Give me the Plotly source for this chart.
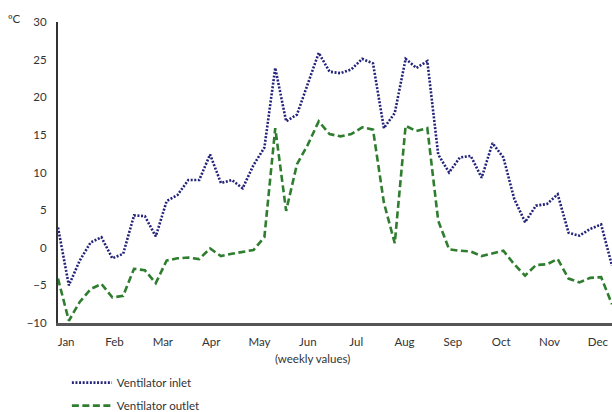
import plotly.graph_objects as go

# Weekly temperatures (°C), 52 weeks
weeks = list(range(52))
inlet = [2.7, -5.0, -1.7, 0.7, 1.4, -1.4, -0.8, 4.3, 4.2, 1.5,
         6.2, 7.0, 9.0, 9.0, 12.4, 8.6, 9.0, 7.9, 11.0, 13.3,
         23.9, 16.8, 17.7, 21.7, 25.9, 23.4, 23.2, 23.7, 25.1, 24.5,
         15.9, 17.9, 25.1, 23.9, 24.8, 12.4, 10.0, 12.0, 12.2, 9.3,
         13.9, 12.0, 6.5, 3.4, 5.6, 5.8, 7.1, 2.0, 1.6, 2.5,
         3.1, -2.4]
outlet = [-4.1, -9.7, -7.2, -5.5, -4.8, -6.6, -6.4, -2.8, -3.0, -4.7,
          -1.7, -1.4, -1.3, -1.5, -0.1, -1.1, -0.8, -0.5, -0.3, 1.4,
          15.9, 4.9, 11.1, 13.7, 16.8, 15.1, 14.8, 15.1, 16.0, 15.7,
          6.0, 0.6, 16.2, 15.5, 15.9, 3.6, -0.2, -0.4, -0.5, -1.1,
          -0.8, -0.4, -2.2, -3.7, -2.3, -2.2, -1.5, -4.1, -4.6, -4.0,
          -3.9, -7.5]
months = ["Jan", "Feb", "Mar", "Apr", "May", "Jun",
          "Jul", "Aug", "Sep", "Oct", "Nov", "Dec"]
month_pos = [0.75 + i * 4.45 for i in range(12)]

font_family = "Lato, Open Sans, sans-serif"
text_col = "#333333"

fig = go.Figure()
fig.add_trace(go.Scatter(
    x=weeks, y=inlet, mode="lines", name="Ventilator inlet",
    legendgroup="inlet",
    line=dict(color="#23237a", width=2.6, dash="2px,1.6px"),
))
fig.add_trace(go.Scatter(
    x=weeks, y=outlet, mode="lines", name="Ventilator outlet",
    legendgroup="outlet",
    line=dict(color="#2f7d2f", width=2.6, dash="7px,3.5px"),
))

fig.update_layout(
    width=612, height=412,
    margin=dict(l=58, r=0, t=22, b=89, autoexpand=False),
    plot_bgcolor="white", paper_bgcolor="white",
    font=dict(family=font_family, size=11.5, color=text_col),
    showlegend=True,
    legend=dict(
        x=0.016, y=-0.150, xanchor="left", yanchor="top",
        orientation="v", bgcolor="rgba(0,0,0,0)",
        font=dict(size=11.5, color=text_col),
        itemwidth=40, tracegroupgap=4,
    ),
    xaxis=dict(
        range=[0, 51], tickmode="array", tickvals=month_pos, ticktext=months,
        showgrid=False, zeroline=False, showline=True,
        linecolor="#555555", linewidth=2.5, ticks="",
        ticklabelstandoff=6, tickfont=dict(size=11.5, color=text_col),
    ),
    yaxis=dict(
        range=[-10, 30], dtick=5, tick0=0,
        showgrid=False, zeroline=False, showline=True,
        linecolor="#333333", linewidth=2, ticks="",
        ticklabelstandoff=7, tickfont=dict(size=11.5, color=text_col),
    ),
    annotations=[
        dict(text="ºC", xref="paper", yref="paper", x=-0.079, y=1.01,
             xanchor="center", yanchor="middle", showarrow=False,
             font=dict(size=11.5, color=text_col)),
        dict(text="(weekly values)", xref="paper", yref="paper",
             x=0.459, y=-0.117, xanchor="center", yanchor="middle",
             showarrow=False, font=dict(size=11.5, color=text_col)),
    ],
)

fig.write_html("out.html")
